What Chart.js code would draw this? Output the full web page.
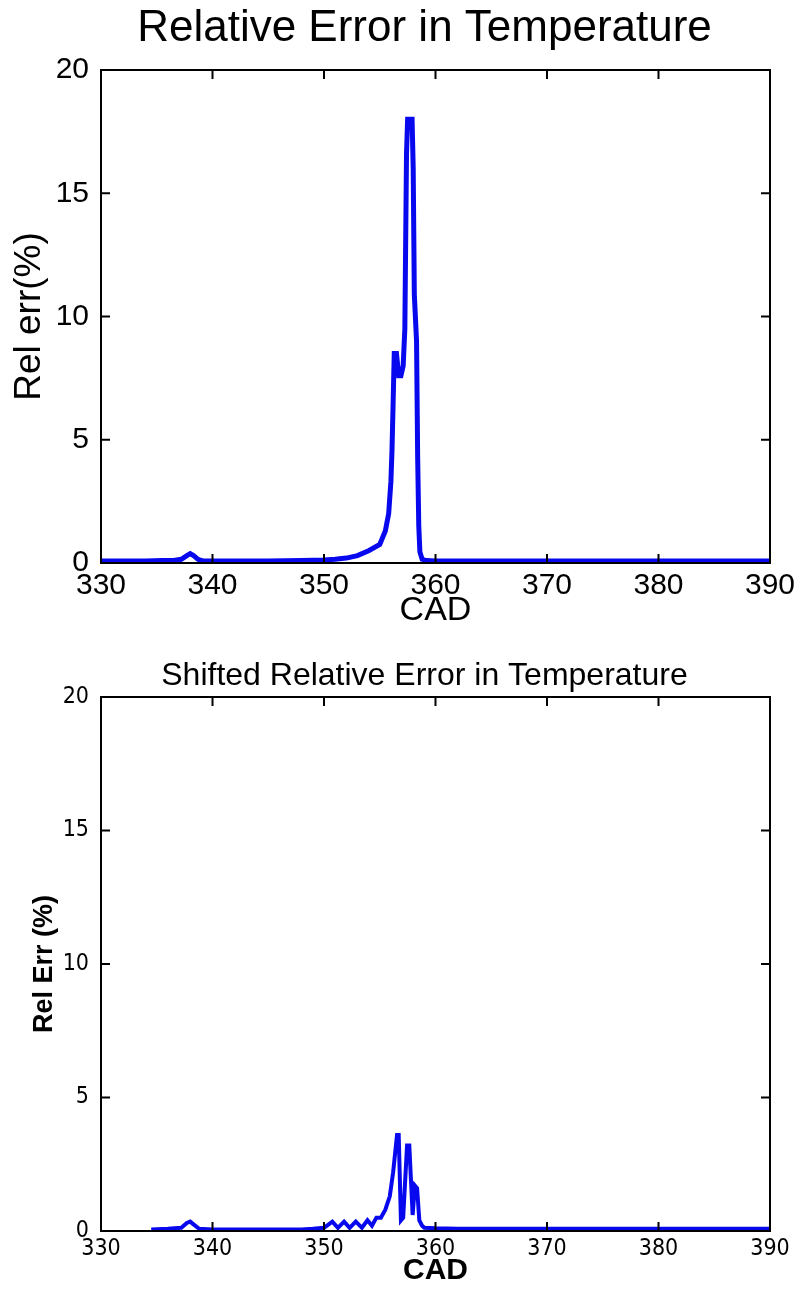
<!DOCTYPE html>
<html>
<head>
<meta charset="utf-8">
<script src="https://cdn.jsdelivr.net/npm/chart.js@4.4.0/dist/chart.umd.min.js"></script>
<style>
  body { margin: 0; background: #fff; width: 802px; height: 1299px; position: relative; overflow: hidden; }
  canvas { position: absolute; left: 0; }
  #topChart { top: 0; }
  #bottomChart { top: 640px; }
</style>
</head>
<body>
<canvas id="topChart" width="802" height="640"></canvas>
<canvas id="bottomChart" width="802" height="659"></canvas>
<script>
// axis ticks
let cadTicks = [330, 340, 350, 360, 370, 380, 390];
let errTicks = [0, 5, 10, 15, 20];

// top plot : relative error
let cadTop = [330, 334, 335.5, 336.5, 337.2, 337.7, 338.0, 338.3, 338.7, 339.2,
              341, 345, 348, 350, 351, 352, 353, 354, 355, 355.5,
              355.8, 356.0, 356.1, 356.2, 356.3, 356.5, 356.7, 356.9, 357.1, 357.25,
              357.4, 357.5, 357.9, 358.0, 358.1, 358.3, 358.4, 358.5, 358.6, 358.8,
              359.2, 360, 365, 370, 380, 390];
let errTop = [0.08, 0.08, 0.1, 0.1, 0.15, 0.3, 0.38, 0.3, 0.15, 0.08,
              0.08, 0.08, 0.1, 0.12, 0.15, 0.2, 0.3, 0.5, 0.75, 1.3,
              2.0, 3.3, 4.6, 6.5, 8.5, 8.5, 7.6, 7.6, 8.0, 9.5,
              16.6, 18.0, 18.0, 16.0, 10.9, 9.0, 4.3, 1.5, 0.45, 0.15,
              0.1, 0.08, 0.08, 0.08, 0.08, 0.08];

// bottom plot : shifted relative error
let cadBottom = [334.5, 336, 337.2, 337.7, 338.0, 338.3, 338.8, 340, 345, 348,
                 349, 350, 350.75, 351.25, 351.8, 352.3, 352.85, 353.4, 353.9, 354.3,
                 354.7, 355.1, 355.5, 355.9, 356.2, 356.55, 356.7, 356.9, 357.1, 357.45,
                 357.65, 357.95, 358.15, 358.35, 358.55, 358.8, 359, 360, 362, 370,
                 380, 390];
let errBottom = [0.06, 0.08, 0.12, 0.3, 0.35, 0.25, 0.08, 0.06, 0.06, 0.06,
                 0.08, 0.12, 0.35, 0.12, 0.35, 0.12, 0.35, 0.12, 0.4, 0.2,
                 0.5, 0.5, 0.8, 1.3, 2.2, 3.6, 3.6, 0.4, 0.5, 3.2,
                 3.2, 0.6, 1.7, 1.6, 0.4, 0.2, 0.12, 0.1, 0.08, 0.08,
                 0.08, 0.08];

let fontMain = "'Liberation Sans', Arial, Helvetica, sans-serif";
let fontNarrow = "'Liberation Sans Narrow', 'DejaVu Sans Condensed', 'Liberation Sans', Arial, sans-serif";

function toPoints(xs, ys){
    let pts = [];
    for(let i in xs){
        pts.push({x: xs[i], y: ys[i]});
    }
    return pts;
}

// matlab style box with ticks pointing inward on all four sides
const boxTicks = {
    id: "boxTicks",
    afterDatasetsDraw(chart, args, opts){
        let ctx = chart.ctx;
        let a = chart.chartArea;
        let len = opts.len || 9;
        ctx.save();
        ctx.strokeStyle = "#000";
        ctx.lineWidth = 2;
        ctx.strokeRect(a.left, a.top, a.right - a.left, a.bottom - a.top);
        ctx.beginPath();
        chart.scales.x.ticks.forEach(t => {
            let px = chart.scales.x.getPixelForValue(t.value);
            ctx.moveTo(px, a.bottom); ctx.lineTo(px, a.bottom - len);
            ctx.moveTo(px, a.top); ctx.lineTo(px, a.top + len);
        });
        chart.scales.y.ticks.forEach(t => {
            let py = chart.scales.y.getPixelForValue(t.value);
            ctx.moveTo(a.left, py); ctx.lineTo(a.left + len, py);
            ctx.moveTo(a.right, py); ctx.lineTo(a.right - len, py);
        });
        ctx.stroke();
        ctx.restore();
    }
};

// plot title, sits a little left of the axes centre like in the matlab figure
const plotTitle = {
    id: "plotTitle",
    afterDraw(chart, args, opts){
        let ctx = chart.ctx;
        let a = chart.chartArea;
        ctx.save();
        ctx.fillStyle = "#000";
        ctx.font = opts.size + "px " + fontMain;
        ctx.textAlign = "center";
        ctx.textBaseline = "middle";
        ctx.fillText(opts.text, (a.left + a.right) / 2 + opts.shift, opts.y);
        ctx.restore();
    }
};

function makeChart(canvasId, o){
    return new Chart(document.getElementById(canvasId), {
        type: "scatter",
        data: {
            datasets: [{
                data: toPoints(o.xs, o.ys),
                showLine: true,
                borderColor: "rgb(8,8,238)",
                borderWidth: o.lineWidth,
                pointRadius: 0,
                tension: 0
            }]
        },
        options: {
            responsive: false,
            animation: false,
            devicePixelRatio: 1,
            layout: { padding: { left: 0, right: 32, top: o.padTop, bottom: o.padBottom } },
            plugins: {
                legend: { display: false },
                tooltip: { enabled: false },
                title: { display: false },
                plotTitle: { text: o.title, size: o.titleSize, y: o.titleY, shift: -11 },
                boxTicks: { len: 9 }
            },
            scales: {
                x: {
                    type: "linear",
                    min: 330, max: 390,
                    afterBuildTicks: s => { s.ticks = cadTicks.map(v => ({value: v})); },
                    afterFit: s => { s.height = o.xHeight; },
                    grid: { display: false },
                    border: { display: false },
                    ticks: { color: "#000", padding: o.xTickPad, font: { family: o.tickFamily, size: o.tickSize } },
                    title: { display: true, text: "CAD", color: "#000", padding: 0,
                             font: { family: fontMain, size: o.xTitleSize, weight: o.labelWeight } }
                },
                y: {
                    min: 0, max: 20,
                    afterBuildTicks: s => { s.ticks = errTicks.map(v => ({value: v})); },
                    afterFit: s => { s.width = 101; },
                    grid: { display: false },
                    border: { display: false },
                    ticks: { color: "#000", padding: 4, font: { family: o.tickFamily, size: o.tickSize } },
                    title: { display: true, text: o.yTitle, color: "#000", padding: { top: o.yTitlePad, bottom: 0 },
                             font: { family: fontMain, size: o.yTitleSize, weight: o.labelWeight } }
                }
            }
        },
        plugins: [boxTicks, plotTitle]
    });
}

makeChart("topChart", {
    xs: cadTop, ys: errTop, lineWidth: 5,
    title: "Relative Error in Temperature", titleSize: 44, titleY: 29, padTop: 70,
    yTitle: "Rel err(%)", yTitleSize: 37, yTitlePad: 8, xTitleSize: 34, labelWeight: "normal",
    tickFamily: fontMain, tickSize: 30, xTickPad: -3, xHeight: 68, padBottom: 9
});

makeChart("bottomChart", {
    xs: cadBottom, ys: errBottom, lineWidth: 4,
    title: "Shifted Relative Error in Temperature", titleSize: 32, titleY: 36, padTop: 57,
    yTitle: "Rel Err (%)", yTitleSize: 27, yTitlePad: 28, xTitleSize: 30, labelWeight: "bold",
    tickFamily: fontNarrow, tickSize: 23, xTickPad: -4, xHeight: 58, padBottom: 10
});
</script>
</body>
</html>
